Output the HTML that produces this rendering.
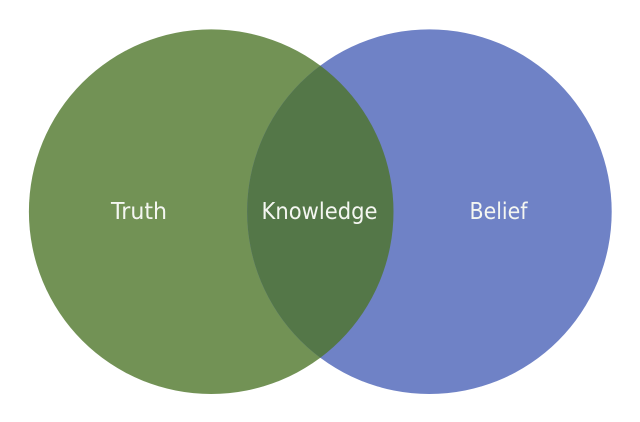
<!DOCTYPE html>
<html>
<head>
<meta charset="utf-8">
<style>
html,body{margin:0;padding:0;background:#fff;width:640px;height:422px;overflow:hidden}
svg{display:block}
text{font-family:"DejaVu Sans","Liberation Sans",sans-serif;font-size:23px;fill:#f4f6f1}
</style>
</head>
<body>
<svg width="640" height="422" viewBox="0 0 640 422" xmlns="http://www.w3.org/2000/svg">
<defs>
<clipPath id="c"><circle cx="211.2" cy="211.7" r="182.3"/></clipPath>
</defs>
<circle cx="211.2" cy="211.7" r="182.3" fill="#729255"/>
<circle cx="429.4" cy="211.7" r="182.3" fill="#6f82c6"/>
<circle cx="429.4" cy="211.7" r="182.3" fill="#547748" clip-path="url(#c)"/>
<text x="111" y="219" textLength="56" lengthAdjust="spacingAndGlyphs">Truth</text>
<text x="261.5" y="219" textLength="116" lengthAdjust="spacingAndGlyphs">Knowledge</text>
<text x="469.5" y="219" textLength="58" lengthAdjust="spacingAndGlyphs">Belief</text>
</svg>
</body>
</html>
